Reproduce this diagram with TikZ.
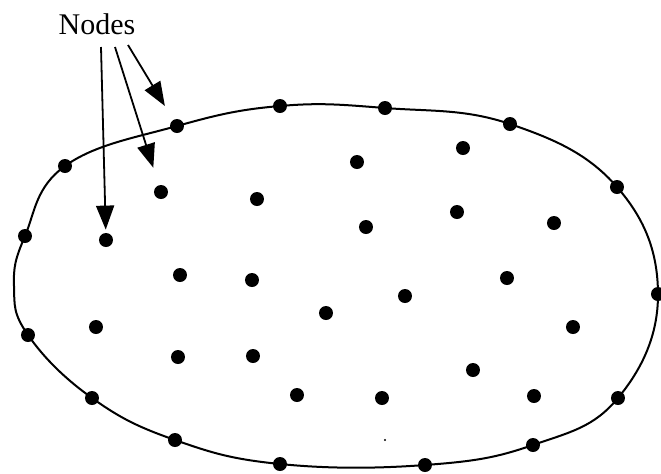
\documentclass[tikz,border=0pt]{standalone}
\usepackage{fontspec}
\setmainfont{Liberation Serif}
\usetikzlibrary{arrows.meta}

\begin{document}
\begin{tikzpicture}[x=0.5pt, y=-0.5pt,
    nodedot/.style = {circle, fill=black, inner sep=0pt, minimum size=7pt},
    pointer/.style = {-{Triangle[length=12pt, width=9pt]}, line width=0.9pt, shorten >=1.5pt}]
    \useasboundingbox (0,0) rectangle (661,473);

    % Boundary of the region
    \draw[line width=1pt] plot[smooth cycle, tension=0.7] coordinates {
        (177,126) (280,106) (385,108) (510,124) (617,187) (658,294) (618,398) (533,445)
        (425,465) (280,464) (175,440) (92,398) (28,335) (14,286) (25,236) (65,166)};

    % Nodes on the boundary
    \foreach \x/\y [count=\i] in {177/126, 280/106, 385/108, 510/124, 617/187, 658/294,
        618/398, 533/445, 425/465, 280/464, 175/440, 92/398, 28/335, 25/236, 65/166}
        \node[nodedot] (b\i) at (\x,\y) {};

    % Nodes inside
    \foreach \x/\y [count=\i] in {161/192, 106/240, 357/162, 463/148, 257/199, 366/227,
        457/212, 554/223, 180/275, 252/280, 405/296, 507/278, 326/313, 573/327, 96/327,
        178/357, 253/356, 473/370, 297/395, 382/398, 534/396}
        \node[nodedot] (n\i) at (\x,\y) {};
    \fill (385,440) circle (0.6pt);

    % Label and pointers
    \node[font=\fontsize{15}{18}\selectfont] (lbl) at (97,24) {Nodes};
    \coordinate (s1) at (101,47);
    \coordinate (s2) at (115,47);
    \coordinate (s3) at (128,45);
    \draw[pointer] (s1) -- (n2);
    \draw[pointer, shorten >=9pt] (s2) -- (n1);
    \draw[pointer, shorten >=8pt] (s3) -- (b1);
\end{tikzpicture}
\end{document}
